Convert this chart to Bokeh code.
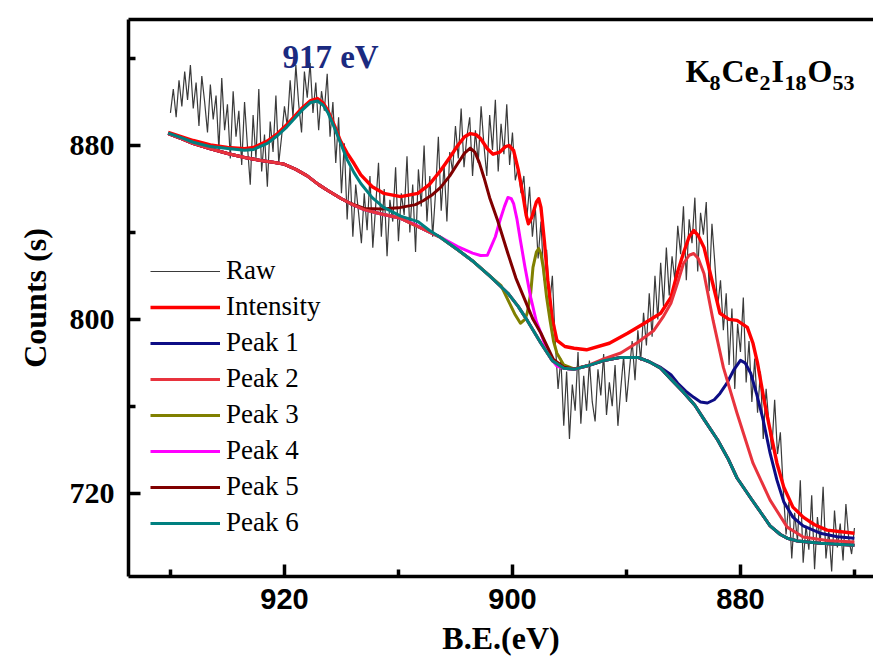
import numpy as np
from bokeh.plotting import figure
from bokeh.models import Range1d, LinearAxis, FixedTicker, Legend, LegendItem, Label
from bokeh.embed import file_html
from bokeh.resources import INLINE

# ---------------- data ----------------
raw_be = np.linspace(930.0, 870.0, 241)   # 0.25 eV steps
raw_counts = [
    895, 906, 893, 910, 898, 914, 901, 917, 897, 909, 889, 912, 900,
    886, 908, 892, 903, 878, 911, 887, 899, 874, 905, 884, 896,
    871, 900, 880, 862, 894, 874, 906, 868, 885, 861, 891, 877, 903, 872,
    884, 898, 889, 910, 893, 917, 899, 886, 914, 902, 918, 895, 909, 887, 905, 896, 913, 884,
    900, 872, 893, 858, 881, 846, 870, 838, 862, 849, 835,
    858, 841, 866, 833, 852, 872, 838, 860, 829, 855, 845, 870, 836, 858,
    848, 875, 840, 862, 831, 869, 852, 880, 845, 866, 838, 858, 884, 850, 871, 845, 877,
    868, 889, 874, 897, 870, 884, 893, 866, 887,
    872, 898, 880, 866, 894, 878, 901, 868, 890, 876, 899, 871, 886, 864,
    870, 858, 866, 846, 861, 838, 852, 828, 845, 818, 832, 806, 820,
    790, 768, 782, 751, 776, 745, 770, 758, 785, 752,
    774, 758, 781, 762, 753, 777, 765, 784, 756, 771, 760, 779, 751, 768, 783, 762, 776, 790,
    772, 795, 781, 803, 788, 812, 792, 820, 800, 826, 806, 833, 811, 829, 818, 843,
    830, 852, 818, 846, 835, 856, 822, 849, 839, 854, 813, 844, 826, 806,
    818, 795, 812, 779, 805, 768, 798, 785, 810, 771, 790, 762,
    782, 757, 776, 745, 768, 752, 740, 763, 738, 748,
    722, 701, 716, 690, 711, 698, 726, 688, 705, 694, 719, 685, 709, 697, 723, 690,
    703, 684, 712, 695, 706, 689, 715, 699, 692, 704,
]

# shared background of the fit
bg_be = [930.2, 929.0, 928.0, 926.5, 925.0, 923.5, 922.1, 921.0, 920.1, 919.0, 918.0,
         917.0, 916.2, 915.0, 914.2, 913.0, 911.5, 909.8, 908.0, 906.3, 904.8, 903.4,
         902.0, 900.4, 899.5, 898.7, 897.5, 896.5, 895.5, 894.6, 893.5, 892.0, 890.5,
         889.0, 888.0, 887.0, 886.1, 885.0, 884.0, 883.2, 882.0, 881.1, 880.3, 879.0,
         878.2, 877.4, 876.5, 875.9, 875.0, 873.0, 870.0]
bg_cnt = [885.5, 883.0, 880.9, 878.5, 876.3, 874.5, 873.1, 872.3, 871.5, 869.0, 866.0,
          862.0, 859.3, 855.5, 853.3, 850.5, 848.5, 846.5, 842.0, 837.7, 832.0, 826.5,
          820.0, 812.0, 806.0, 799.5, 789.0, 781.0, 777.5, 777.0, 778.5, 781.0, 782.5,
          782.5, 780.5, 777.5, 772.5, 766.5, 760.5, 754.0, 744.5, 736.0, 727.0, 717.0,
          711.0, 705.0, 701.0, 699.3, 698.0, 697.0, 696.0]

# total fit ("Intensity")
int_be = [930.2, 929.0, 928.0, 926.5, 925.0, 923.5, 922.7, 921.5, 920.6, 919.8, 919.2,
          918.5, 917.7, 917.1, 916.6, 916.2, 915.6, 915.1, 914.5, 913.9, 913.3, 912.3,
          911.3, 909.8, 908.3, 907.3, 906.3, 905.5, 904.8, 904.2, 903.7, 903.2, 902.8,
          902.2, 901.7, 901.1, 900.6, 900.3, 899.9, 899.5, 899.1, 898.8, 898.6, 898.3,
          897.9, 897.7, 897.5, 897.2, 896.9, 896.5, 896.1, 895.4, 894.6, 893.5, 891.5,
          889.9, 888.5, 887.0, 886.1, 885.5, 885.0, 884.5, 884.1, 883.7, 883.2, 882.5,
          881.8, 881.0, 880.3, 879.4, 878.9, 878.5, 877.9, 877.4, 876.8, 876.2, 875.4,
          874.5, 873.5, 872.4, 870.0]
int_cnt = [886.0, 884.0, 882.3, 880.3, 879.1, 878.5, 879.1, 882.0, 885.5, 889.5, 892.9,
           897.0, 900.7, 901.6, 899.5, 896.1, 889.0, 882.3, 876.5, 871.7, 866.5, 861.0,
           858.0, 856.5, 858.0, 862.0, 868.5, 874.5, 880.0, 884.0, 885.5, 885.0, 883.2,
           878.5, 876.0, 877.0, 879.5, 880.0, 877.7, 869.0, 857.9, 848.0, 844.0, 847.0,
           854.0, 855.5, 851.5, 836.0, 817.9, 800.0, 790.3, 787.5, 786.7, 786.0, 789.0,
           793.6, 798.0, 802.8, 810.1, 822.0, 830.5, 838.0, 840.9, 838.5, 833.1, 818.0,
           802.8, 800.0, 799.5, 796.3, 789.0, 779.8, 762.0, 749.0, 733.8, 722.8, 713.6,
           709.0, 705.5, 703.0, 701.6]

# peak components (part above the background)
p1_be = [887.0, 886.1, 885.5, 884.8, 884.1, 883.5, 882.9, 882.3, 881.8, 881.2, 880.6,
         880.0, 879.6, 879.1, 878.6, 878.0, 877.4, 876.8, 876.2, 875.4, 874.5, 873.0,
         871.5, 870.0]
p1_cnt = [777.9, 774.5, 770.6, 767.0, 764.1, 762.0, 761.5, 763.0, 765.9, 770.5, 776.6,
          781.1, 780.0, 775.2, 766.0, 753.6, 738.4, 726.0, 716.0, 709.0, 705.0, 701.6,
          700.0, 699.3]

p2_be = [892.0, 890.5, 889.0, 887.6, 886.8, 886.1, 885.5, 885.0, 884.5, 884.1, 883.7,
         883.2, 882.4, 881.5, 880.3, 878.9, 877.4, 875.9, 874.5, 872.4, 870.0]
p2_cnt = [781.8, 784.5, 789.5, 794.9, 801.0, 807.4, 817.0, 825.7, 829.5, 830.3, 828.0,
          821.1, 799.5, 777.9, 756.8, 733.8, 716.8, 704.4, 699.8, 698.2, 697.5]

p3_be = [901.0, 900.4, 899.8, 899.3, 898.9, 898.7, 898.4, 898.2, 897.9, 897.7, 897.5,
         897.3, 897.0, 896.7, 896.4, 896.1, 895.5, 894.6]
p3_cnt = [815.5, 809.0, 802.5, 798.2, 800.0, 803.0, 812.0, 823.9, 831.0, 832.6, 830.0,
          823.9, 810.0, 799.5, 790.0, 784.4, 779.0, 777.2]

p4_be = [908.5, 907.8, 906.3, 904.8, 903.5, 902.8, 902.2, 901.9, 901.5, 901.1, 900.7,
         900.4, 900.1, 899.9, 899.6, 899.3, 898.9, 898.4, 897.9, 897.5, 897.1, 896.7,
         896.1, 895.5]
p4_cnt = [843.5, 841.5, 837.8, 833.5, 830.5, 829.4, 829.5, 833.1, 838.0, 845.5, 852.0,
          856.1, 855.5, 853.3, 846.0, 836.3, 824.0, 810.1, 799.0, 793.6, 787.5, 782.5,
          778.5, 777.5]

p5_be = [913.0, 911.5, 910.0, 908.5, 907.8, 907.0, 906.3, 905.5, 904.8, 904.2, 903.7,
         903.3, 902.9, 902.5, 902.0, 901.3, 900.4, 899.7, 899.0, 898.2, 897.5, 896.9,
         896.4, 895.5, 894.6]
p5_cnt = [851.0, 850.8, 851.3, 852.8, 854.7, 857.5, 860.7, 866.0, 871.7, 876.5, 878.8,
          877.0, 872.0, 865.3, 856.0, 845.5, 830.3, 819.0, 810.1, 800.0, 793.6, 787.0,
          781.5, 778.0, 777.2]

p6_be = [930.2, 929.0, 928.0, 926.5, 925.0, 923.5, 922.7, 921.5, 920.6, 919.8, 919.2,
         918.5, 917.7, 917.1, 916.6, 916.2, 915.6, 915.1, 914.5, 913.9, 913.3, 912.3,
         911.3, 909.8, 908.3, 907.3, 906.3]
p6_cnt = [885.7, 883.5, 881.5, 879.5, 878.6, 877.8, 878.2, 881.0, 884.6, 888.5, 892.0,
          896.0, 899.8, 900.5, 898.5, 895.2, 888.0, 881.4, 873.5, 867.5, 862.5, 856.0,
          851.5, 847.5, 845.0, 841.0, 837.7]

legend_labels = ["Raw", "Intensity", "Peak 1", "Peak 2", "Peak 3", "Peak 4", "Peak 5", "Peak 6"]
x_major = [880, 900, 920]
x_minor = [870, 890, 910, 930]
y_major = [720, 800, 880]
y_minor = [760, 840, 920]


def with_bg(seg_be, seg_cnt):
    hi, lo = max(seg_be), min(seg_be)
    xs = [b for b in bg_be if b > hi] + list(seg_be) + [b for b in bg_be if b < lo]
    ys = ([c for b, c in zip(bg_be, bg_cnt) if b > hi] + list(seg_cnt)
          + [c for b, c in zip(bg_be, bg_cnt) if b < lo])
    return xs, ys


# ---------------- figure ----------------
X0, X1 = 933.68, 868.33
Y0, Y1 = 681.67, 937.98

p = figure(width=873, height=669, output_backend="svg", toolbar_location=None,
           x_range=Range1d(X0, X1), y_range=Range1d(Y0, Y1),
           min_border_left=128, min_border_right=0, min_border_top=19, min_border_bottom=93,
           x_axis_location="below", y_axis_location="left")
p.background_fill_color = "white"
p.border_fill_color = "white"
p.outline_line_color = None
p.xgrid.visible = False
p.ygrid.visible = False

serif = "Liberation Serif"
sans = "Liberation Sans"

xa = p.xaxis[0]
xa.ticker = FixedTicker(ticks=x_major, minor_ticks=x_minor)
xa.axis_label = "B.E.(eV)"
ya = p.yaxis[0]
ya.ticker = FixedTicker(ticks=y_major, minor_ticks=y_minor)
ya.axis_label = "Counts (s)"
for ax in (xa, ya):
    ax.axis_line_width = 3.5
    ax.axis_line_color = "black"
    ax.major_tick_in = 12
    ax.major_tick_out = 0
    ax.minor_tick_in = 7
    ax.minor_tick_out = 0
    ax.major_tick_line_width = 3.5
    ax.minor_tick_line_width = 3.5
    ax.major_tick_line_color = "black"
    ax.minor_tick_line_color = "black"
    ax.major_label_text_color = "black"
    ax.major_label_text_font_style = "bold"
    ax.axis_label_text_font = serif
    ax.axis_label_text_font_style = "bold"
    ax.axis_label_text_font_size = "32px"
    ax.axis_label_text_color = "black"
xa.major_label_text_font = sans
xa.major_label_text_font_size = "29px"
xa.major_label_standoff = 12
xa.axis_label_standoff = 8
ya.major_label_text_font = serif
ya.major_label_text_font_size = "30px"
ya.major_label_standoff = 14
ya.axis_label_standoff = 14

top = LinearAxis(ticker=FixedTicker(ticks=[]), major_label_text_font_size="0px",
                 axis_line_width=3.5, axis_line_color="black",
                 major_tick_line_color=None, minor_tick_line_color=None,
                 major_label_standoff=0)
p.add_layout(top, "above")

# ---------------- lines ----------------
r_raw = p.line(list(raw_be), raw_counts, line_color="#3a3a3a", line_width=1.2)
r_int = p.line(int_be, int_cnt, line_color="#FF0000", line_width=3.4,
               line_join="round")
x1, y1 = with_bg(p1_be, p1_cnt)
x2, y2 = with_bg(p2_be, p2_cnt)
x3, y3 = with_bg(p3_be, p3_cnt)
x4, y4 = with_bg(p4_be, p4_cnt)
x5, y5 = with_bg(p5_be, p5_cnt)
x6, y6 = with_bg(p6_be, p6_cnt)
lw = 3.0
r1 = p.line(x1, y1, line_color="#0D0D85", line_width=lw, line_join="round")
r3 = p.line(x3, y3, line_color="#808000", line_width=lw, line_join="round")
r4 = p.line(x4, y4, line_color="#FF00FF", line_width=lw, line_join="round")
r5 = p.line(x5, y5, line_color="#800000", line_width=lw, line_join="round")
r2 = p.line(x2, y2, line_color="#E8333D", line_width=lw, line_join="round")
r6 = p.line(x6, y6, line_color="#008080", line_width=lw, line_join="round")

renderers = [r_raw, r_int, r1, r2, r3, r4, r5, r6]
items = [LegendItem(label=lab, renderers=[r]) for lab, r in zip(legend_labels, renderers)]
legend = Legend(items=items, location=(22, 38), orientation="vertical",
                glyph_width=70, glyph_height=30, label_height=30, spacing=5,
                padding=0, margin=0, label_standoff=6,
                label_text_font=serif, label_text_font_size="27px",
                label_text_color="black",
                border_line_color=None, background_fill_alpha=0)
p.add_layout(legend)


# ---------------- annotations ----------------
def px_x(px):
    return 920 - (px - 284) / 11.4


def px_y(py):
    return 880 - (py - 145) / 2.173


p.add_layout(Label(x=px_x(282), y=px_y(57), text="917 eV", text_font=serif,
                   text_font_style="bold", text_font_size="33px", text_color="#1B2A80",
                   text_baseline="alphabetic", text_align="left"))

pieces = [("K", 685, False), ("8", 709, True), ("Ce", 721, False), ("2", 759, True),
          ("I", 771, False), ("18", 784, True), ("O", 807, False), ("53", 832, True)]
for txt, px, sub in pieces:
    p.add_layout(Label(x=px_x(px), y=px_y(83 if sub else 71), text=txt, text_font=serif,
                       text_font_style="bold", text_font_size="22px" if sub else "32px",
                       text_color="black", text_baseline="alphabetic", text_align="left"))

open("out.html", "w").write(file_html(p, INLINE))
